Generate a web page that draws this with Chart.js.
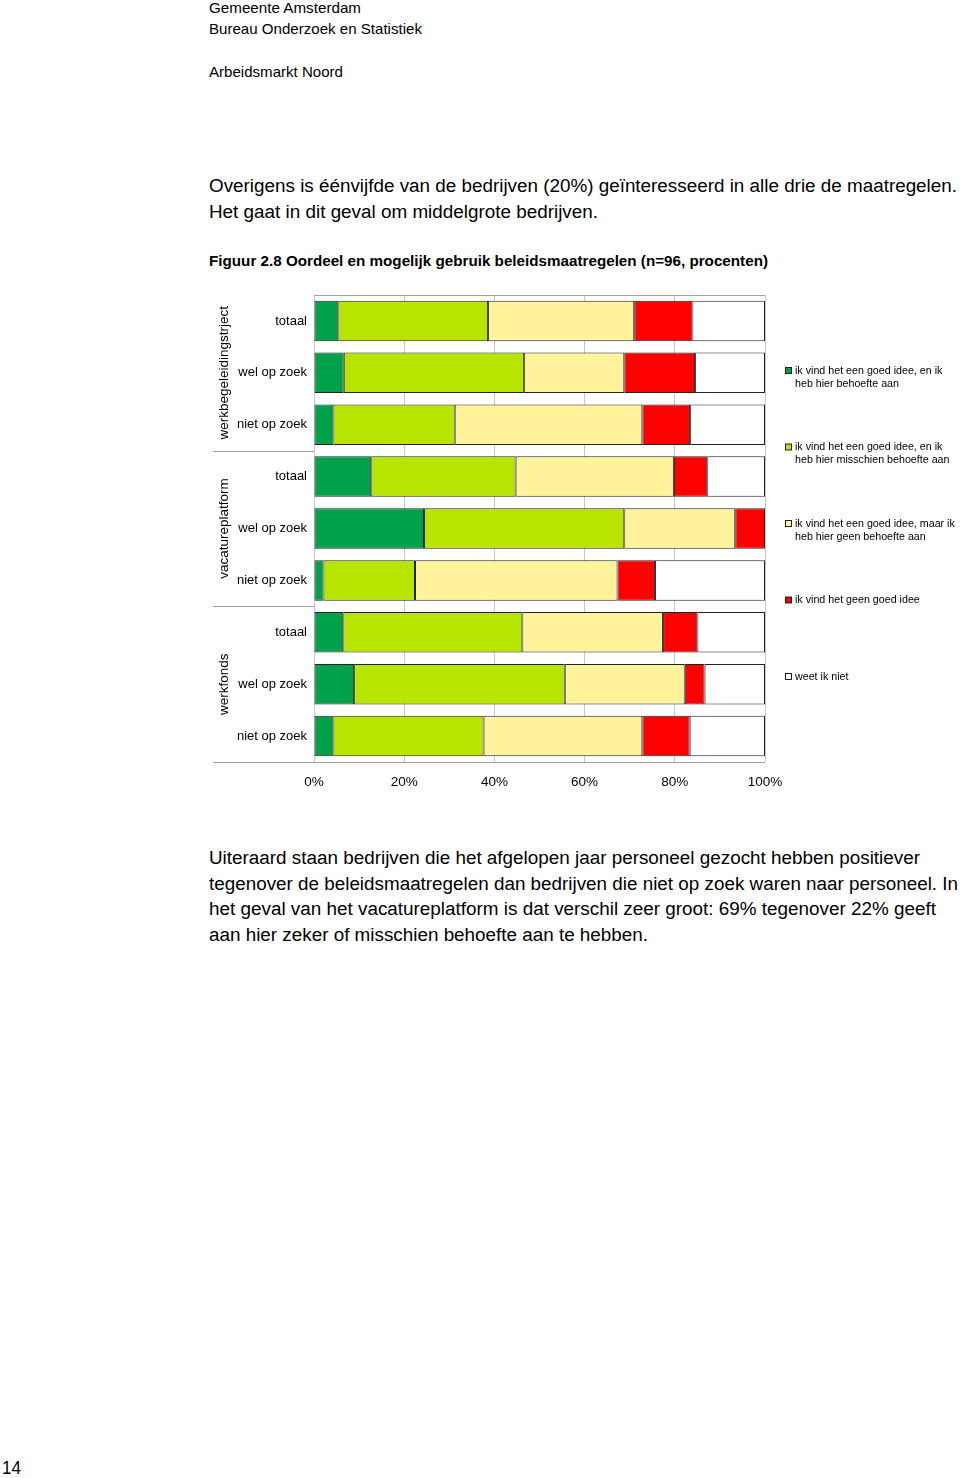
<!DOCTYPE html>
<html>
<head>
<meta charset="utf-8">
<script src="https://cdn.jsdelivr.net/npm/chart.js@4.4.1/dist/chart.umd.min.js"></script>
<style>
  html, body { margin: 0; padding: 0; background: #fff; }
  body { width: 960px; height: 1478px; position: relative; overflow: hidden; font-family: "Liberation Sans", Arial, sans-serif; color: #000; }
  .ln { position: absolute; white-space: nowrap; line-height: 1; transform-origin: 0 0; }
  #wrap { position: absolute; left: 200px; top: 285px; width: 760px; height: 515px; }
</style>
</head>
<body>
<div id="wrap"><canvas id="chart" width="760" height="515"></canvas></div>
<script>
// data (percentages)
const categories = ['totaal', 'wel op zoek', 'niet op zoek', 'totaal', 'wel op zoek', 'niet op zoek', 'totaal', 'wel op zoek', 'niet op zoek'];
const groups = ['werkbegeleidingstrject', 'vacatureplatform', 'werkfonds'];
const seriesNames = [
    ['ik vind het een goed idee, en ik', 'heb hier behoefte aan'],
    ['ik vind het een goed idee, en ik', 'heb hier misschien behoefte aan'],
    ['ik vind het een goed idee, maar ik', 'heb hier geen behoefte aan'],
    ['ik vind het geen goed idee'],
    ['weet ik niet']
];
const welBehoefte = [5.4, 6.6, 4.3, 12.7, 24.4, 2.1, 6.5, 8.9, 4.3];
const misschienBehoefte = [33.2, 40.0, 26.9, 32.0, 44.4, 20.3, 39.7, 46.7, 33.3];
const geenBehoefte = [32.4, 22.2, 41.6, 35.1, 24.6, 44.9, 31.2, 26.6, 35.2];
const geenGoedIdee = [12.9, 15.7, 10.6, 7.4, 6.6, 8.3, 7.6, 4.4, 10.5];
const weetNiet = [16.1, 15.5, 16.6, 12.8, 0, 24.4, 15.0, 13.4, 16.7];
const xTicks = [0, 20, 40, 60, 80, 100];

const colors = ['#00a14b', '#b7e500', '#fff39b', '#ff0000', '#ffffff'];
const seriesData = [welBehoefte, misschienBehoefte, geenBehoefte, geenGoedIdee, weetNiet];

// page text
const lines = [
    ['Gemeente Amsterdam', 209, 13, 15, 152, false],
    ['Bureau Onderzoek en Statistiek', 209, 34, 15, 213, false],
    ['Arbeidsmarkt Noord', 209, 77, 15, 134, false],
    ['Overigens is éénvijfde van de bedrijven (20%) geïnteresseerd in alle drie de maatregelen.', 209, 192, 18, 748, false],
    ['Het gaat in dit geval om middelgrote bedrijven.', 209, 218, 18, 389, false],
    ['Figuur 2.8  Oordeel en mogelijk gebruik beleidsmaatregelen (n=96, procenten)', 209, 266, 15, 559, true],
    ['Uiteraard staan bedrijven die het afgelopen jaar personeel gezocht hebben positiever', 209, 864, 18, 711, false],
    ['tegenover de beleidsmaatregelen dan bedrijven die niet op zoek waren naar personeel. In', 209, 890, 18, 749, false],
    ['het geval van het vacatureplatform is dat verschil zeer groot: 69% tegenover 22% geeft', 209, 915, 18, 727, false],
    ['aan hier zeker of misschien behoefte aan te hebben.', 209, 941, 18, 439, false],
    ['14', 2, 1474, 18, 19, false]
];
lines.forEach(([t, x, base, size, w, bold]) => {
    const d = document.createElement('div');
    d.className = 'ln';
    d.textContent = t;
    d.style.fontSize = size + 'px';
    if (bold) d.style.fontWeight = 'bold';
    d.style.left = x + 'px';
    d.style.top = (base - 0.8465 * size) + 'px';
    document.body.appendChild(d);
    const m = d.getBoundingClientRect().width;
    if (m > 0) d.style.transform = 'scaleX(' + (w / m) + ')';
});

const extras = {
    id: 'extras',
    afterDraw(chart) {
        const ctx = chart.ctx;
        const area = chart.chartArea;
        const y = chart.scales.y;
        ctx.save();
        ctx.strokeStyle = '#a0a0a0';
        ctx.lineWidth = 1;
        // top line and bottom axis line
        ctx.beginPath();
        ctx.moveTo(area.left, Math.round(area.top) + 0.5);
        ctx.lineTo(area.right, Math.round(area.top) + 0.5);
        ctx.moveTo(13, Math.round(area.bottom) + 0.5);
        ctx.lineTo(area.right, Math.round(area.bottom) + 0.5);
        // group separators
        for (let g = 1; g < groups.length; g++) {
            const sy = Math.round((y.getPixelForValue(g * 3 - 1) + y.getPixelForValue(g * 3)) / 2) + 0.5;
            ctx.moveTo(13, sy);
            ctx.lineTo(area.left, sy);
        }
        ctx.stroke();

        // rotated group labels
        ctx.fillStyle = '#000';
        ctx.font = '13.5px "Liberation Sans", Arial, sans-serif';
        ctx.textAlign = 'center';
        ctx.textBaseline = 'middle';
        groups.forEach((g, i) => {
            const cy = y.getPixelForValue(i * 3 + 1);
            ctx.save();
            ctx.translate(24, cy);
            ctx.rotate(-Math.PI / 2);
            ctx.fillText(g, 0, 0);
            ctx.restore();
        });

        // legend
        ctx.font = '10.7px "Liberation Sans", Arial, sans-serif';
        ctx.textAlign = 'left';
        chart.data.datasets.forEach((ds, i) => {
            const ly = 86 + i * 76.5;
            ctx.fillStyle = ds.backgroundColor;
            ctx.fillRect(585.5, ly - 3.5, 6, 6);
            ctx.strokeStyle = '#222';
            ctx.strokeRect(585.5, ly - 3.5, 6, 6);
            ctx.fillStyle = '#000';
            ds.label.forEach((t, k) => ctx.fillText(t, 595, ly + k * 13));
        });
        ctx.restore();
    }
};

new Chart(document.getElementById('chart'), {
    type: 'bar',
    data: {
        labels: categories,
        datasets: seriesData.map((d, i) => ({
            label: seriesNames[i],
            data: d,
            backgroundColor: colors[i],
            borderColor: '#222',
            borderWidth: 1,
            borderSkipped: false,
            barPercentage: 0.78,
            categoryPercentage: 1
        }))
    },
    options: {
        indexAxis: 'y',
        responsive: false,
        animation: false,
        layout: { padding: { left: 0, top: 10, right: 195, bottom: 0 } },
        plugins: { legend: { display: false }, tooltip: { enabled: false } },
        scales: {
            x: {
                stacked: true,
                min: 0,
                max: 100,
                afterBuildTicks: s => { s.ticks = xTicks.map(v => ({ value: v })); },
                afterFit: s => { s.height = 38; },
                grid: { color: '#c8c8c8', drawTicks: false },
                border: { display: false },
                ticks: {
                    padding: 12,
                    color: '#000',
                    font: { family: '"Liberation Sans", Arial, sans-serif', size: 13.5 },
                    callback: v => v + '%'
                }
            },
            y: {
                stacked: true,
                afterFit: s => { s.width = 114; s.paddingTop = 0; s.paddingBottom = 0; },
                grid: { display: false, drawTicks: false },
                border: { display: false },
                ticks: {
                    padding: 7,
                    color: '#000',
                    font: { family: '"Liberation Sans", Arial, sans-serif', size: 13 }
                }
            }
        }
    },
    plugins: [extras]
});
</script>
</body>
</html>
